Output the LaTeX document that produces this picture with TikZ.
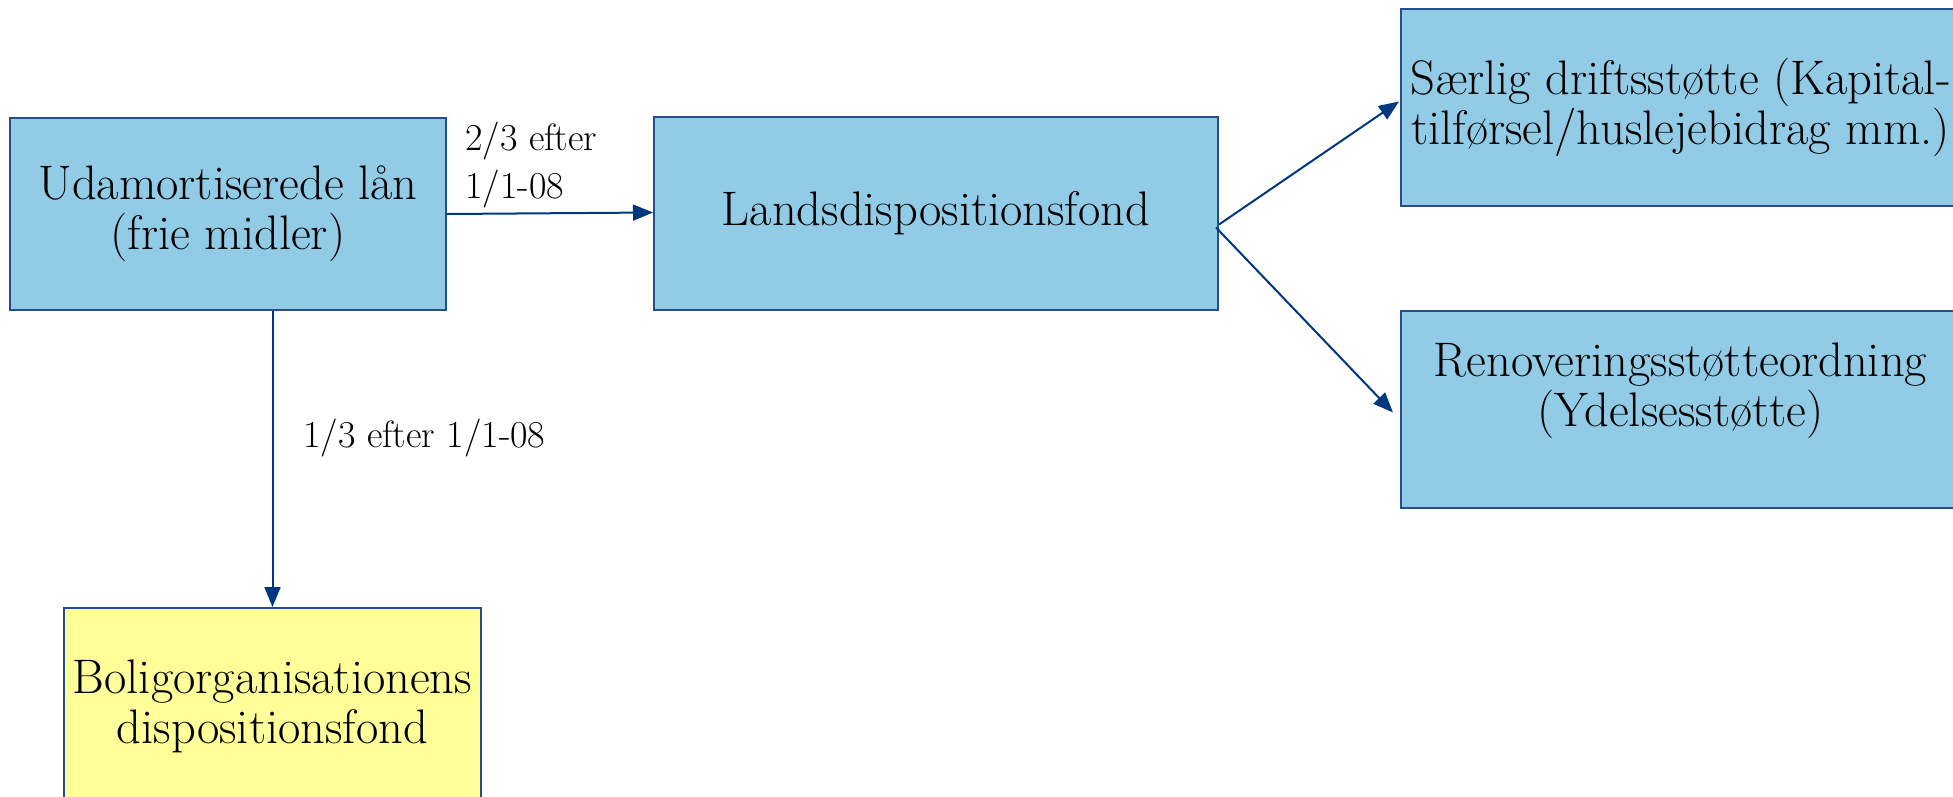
\documentclass[tikz,border=0pt]{standalone}
\usepackage{fontspec}
\usetikzlibrary{arrows.meta,calc}
\definecolor{boxblue}{RGB}{146,203,230}
\definecolor{boxyellow}{RGB}{255,255,153}
\definecolor{edgeblue}{RGB}{38,78,140}
\definecolor{arrowblue}{RGB}{0,56,128}
\begin{document}
\begin{tikzpicture}[x=1pt,y=-1pt,
  box/.style={draw=edgeblue,line width=2pt,fill=boxblue,rectangle,align=center,
    inner sep=0pt,font=\fontsize{48.5}{50}\selectfont},
  ybox/.style={box,fill=boxyellow},
  flow/.style={draw=arrowblue,line width=2pt,-{Triangle[length=20pt,width=16pt]}},
  lbl/.style={inner sep=0pt,align=left,font=\fontsize{38}{48}\selectfont}]
\useasboundingbox (0,0) rectangle (1953,796);
\clip (0,0) rectangle (1953,796);
\node[box,minimum width=436pt,minimum height=192pt] (uda) at (228,214) {Udamortiserede lån\\(frie midler)};
\node[box,minimum width=564pt,minimum height=193pt] (lands) at (936,213.5) {Landsdispositionsfond};
\node[box,minimum width=559pt,minimum height=197pt] (saer) at (1680.5,107.5) {Særlig driftsstøtte (Kapital-\\tilførsel/huslejebidrag mm.)};
\node[box,minimum width=559pt,minimum height=197pt] (reno) at (1680.5,409.5) {Renoveringsstøtteordning\\(Ydelsesstøtte)\\\mbox{}};
\node[ybox,minimum width=417pt,minimum height=197pt] (bolig) at (272.5,706.5) {Boligorganisationens\\dispositionsfond};
\draw[flow] (uda.east) -- ([yshift=1pt]lands.west);
\draw[flow] (bolig.north |- uda.south) -- (bolig.north);
\coordinate (fork) at ([yshift=-11pt]lands.east);
\draw[flow] (fork) -- ([xshift=-1pt,yshift=6pt]saer.west);
\draw[flow] ([xshift=-3pt,yshift=-3pt]fork) -- ([xshift=-7pt,yshift=-3pt]reno.west);
\node[lbl,anchor=north west] (l1) at (465,122) {2/3 efter\\1/1-08};
\node[lbl,anchor=west] (l2) at (303,438) {1/3 efter 1/1-08};
\end{tikzpicture}
\end{document}
